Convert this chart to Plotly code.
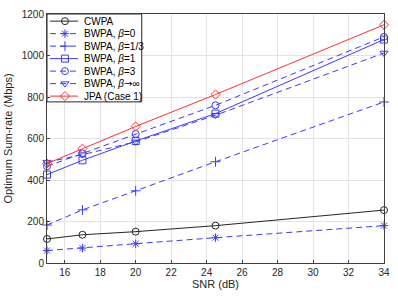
import plotly.graph_objects as go

snr = [15, 17, 20, 24.5, 34]
cwpa = [116, 136, 151, 180, 255]
bwpa_b0 = [60, 72, 93, 122, 180]
bwpa_b13 = [183, 256, 348, 488, 776]
bwpa_b1 = [426, 495, 588, 720, 1077]
bwpa_b3 = [466, 528, 622, 760, 1090]
bwpa_binf = [486, 522, 584, 712, 1012]
jpa = [479, 551, 658, 812, 1148]

x_ticks = [16, 18, 20, 22, 24, 26, 28, 30, 32, 34]
y_ticks = [0, 200, 400, 600, 800, 1000, 1200]

ARROW = '<span style="font-family:DejaVu Sans">→</span>'
names = ["CWPA", "BWPA, <i>β</i>=0", "BWPA, <i>β</i>=1/3", "BWPA, <i>β</i>=1",
         "BWPA, <i>β</i>=3", "BWPA, <i>β</i>" + ARROW + "∞", "JPA (Case 1)"]
series = [cwpa, bwpa_b0, bwpa_b13, bwpa_b1, bwpa_b3, bwpa_binf, jpa]

BLUE = "#3a3aff"
DASH = "6px,4px"
styles = [
    dict(color="#262626", dash="solid", symbol="circle-open"),
    dict(color=BLUE, dash=DASH, symbol="asterisk-open"),
    dict(color=BLUE, dash=DASH, symbol="cross-thin-open"),
    dict(color=BLUE, dash="solid", symbol="square-open"),
    dict(color=BLUE, dash=DASH, symbol="circle-open"),
    dict(color=BLUE, dash=DASH, symbol="triangle-down-open"),
    dict(color="#ff3030", dash="solid", symbol="diamond-open"),
]
MSIZE = 7

fig = go.Figure()
for name, ys, st in zip(names, series, styles):
    fig.add_trace(go.Scatter(
        x=snr, y=ys, name=name, mode="lines+markers", showlegend=False,
        cliponaxis=False,
        line=dict(color=st["color"], width=1, dash=st["dash"]),
        marker=dict(symbol=st["symbol"], size=MSIZE,
                    line=dict(color=st["color"], width=1), color=st["color"]),
    ))

# ---- MATLAB-style legend box drawn on an overlay axis (pixel units of plot area) ----
PW, PH = 338, 255          # plot area size in px
LW, LH = 95, 90            # legend box size
ROW0, ROWH = 7.3, 12.8     # first row centre and row pitch
fig.add_trace(go.Scatter(
    x=[0, LW, LW, 0, 0], y=[0, 0, LH, LH, 0], xaxis="x2", yaxis="y2",
    mode="lines", fill="toself", fillcolor="white",
    line=dict(color="#262626", width=1), showlegend=False, hoverinfo="skip"))
for i, (name, st) in enumerate(zip(names, styles)):
    ry = ROW0 + ROWH * i
    fig.add_trace(go.Scatter(
        x=[3, 31], y=[ry, ry], xaxis="x2", yaxis="y2", mode="lines",
        line=dict(color=st["color"], width=1, dash=st["dash"]),
        showlegend=False, hoverinfo="skip"))
    fig.add_trace(go.Scatter(
        x=[18], y=[ry], xaxis="x2", yaxis="y2", mode="markers",
        marker=dict(symbol=st["symbol"], size=MSIZE,
                    line=dict(color=st["color"], width=1), color=st["color"]),
        showlegend=False, hoverinfo="skip"))
    fig.add_annotation(x=35, y=ry, xref="x2", yref="y2", text=name,
                       showarrow=False, xanchor="left", yanchor="middle",
                       font=dict(size=10, color="#000000",
                                 family="Liberation Sans, Arial"))

axis_common = dict(
    showline=True, linecolor="#404040", linewidth=1, mirror=True,
    ticks="inside", ticklen=3, tickcolor="#404040",
    showgrid=True, gridcolor="#e3e3e3", gridwidth=1, zeroline=False,
    tickfont=dict(size=10, color="#262626", family="Liberation Sans, Arial"),
)
fig.update_layout(
    xaxis=dict(range=[15, 34], tickvals=x_ticks,
               title=dict(text="SNR (dB)", font=dict(size=11, color="#262626"), standoff=3),
               **axis_common),
    yaxis=dict(range=[0, 1200], tickvals=y_ticks,
               title=dict(text="Optimum Sum-rate (Mbps)", font=dict(size=11, color="#262626"), standoff=6),
               **axis_common),
    xaxis2=dict(overlaying="x", anchor="y2", range=[0, PW], visible=False, fixedrange=True),
    yaxis2=dict(overlaying="y", anchor="x2", range=[PH, 0], visible=False, fixedrange=True),
    width=398, height=300,
    margin=dict(l=46, r=14, t=8, b=37),
    paper_bgcolor="white", plot_bgcolor="white",
    font=dict(family="Liberation Sans, Arial", size=11, color="#262626"),
    showlegend=False,
)
fig.write_html("out.html", config={"displayModeBar": False},
               post_script="document.body.style.margin='0';")
